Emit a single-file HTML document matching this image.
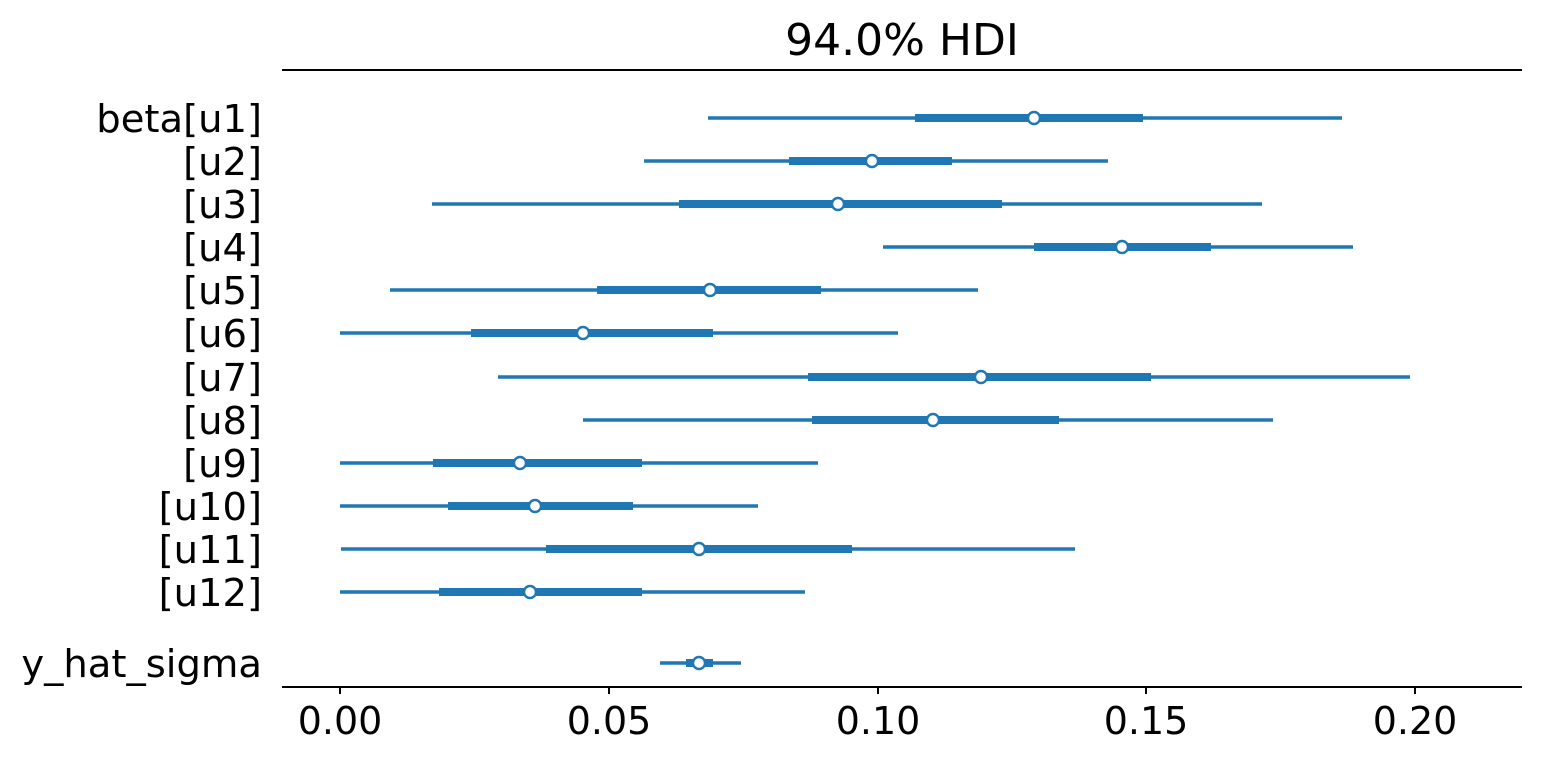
<!DOCTYPE html>
<html><head><style>body{margin:0;background:#fff}svg text{font-family:"DejaVu Sans",sans-serif;fill:#000}</style></head><body>
<svg width="1542" height="764" xmlns="http://www.w3.org/2000/svg">
<text x="902" y="55" font-size="44" text-anchor="middle">94.0% HDI</text>
<line x1="282" y1="70" x2="1522" y2="70" stroke="#000" stroke-width="2"/>
<line x1="282" y1="687" x2="1522" y2="687" stroke="#000" stroke-width="2"/>
<g stroke="#000" stroke-width="2">
<line x1="340" y1="687" x2="340" y2="694"/><line x1="609" y1="687" x2="609" y2="694"/><line x1="878" y1="687" x2="878" y2="694"/><line x1="1146" y1="687" x2="1146" y2="694"/><line x1="1415" y1="687" x2="1415" y2="694"/>
</g>
<g font-size="38" text-anchor="middle">
<text x="340" y="734">0.00</text><text x="609" y="734">0.05</text><text x="878" y="734">0.10</text><text x="1146" y="734">0.15</text><text x="1415" y="734">0.20</text>
</g>
<g font-size="38.5" text-anchor="end">
<text x="262" y="132">beta[u1]</text><text x="262" y="175">[u2]</text><text x="262" y="218">[u3]</text><text x="262" y="261">[u4]</text><text x="262" y="304">[u5]</text><text x="262" y="347">[u6]</text><text x="262" y="391">[u7]</text><text x="262" y="434">[u8]</text><text x="262" y="477">[u9]</text><text x="262" y="520">[u10]</text><text x="262" y="563">[u11]</text><text x="262" y="606">[u12]</text><text x="262" y="677">y_hat_sigma</text>
</g>
<g stroke="#1f77b4" fill="#fff">
<line x1="708" y1="118" x2="1342" y2="118" stroke-width="3.5"/><line x1="915" y1="118" x2="1143" y2="118" stroke-width="8"/><circle cx="1034" cy="118" r="6" stroke-width="2.4"/>
<line x1="644" y1="161" x2="1108" y2="161" stroke-width="3.5"/><line x1="789" y1="161" x2="952" y2="161" stroke-width="8"/><circle cx="872" cy="161" r="6" stroke-width="2.4"/>
<line x1="432" y1="204" x2="1262" y2="204" stroke-width="3.5"/><line x1="679" y1="204" x2="1002" y2="204" stroke-width="8"/><circle cx="838" cy="204" r="6" stroke-width="2.4"/>
<line x1="883" y1="247" x2="1353" y2="247" stroke-width="3.5"/><line x1="1034" y1="247" x2="1211" y2="247" stroke-width="8"/><circle cx="1122" cy="247" r="6" stroke-width="2.4"/>
<line x1="390" y1="290" x2="978" y2="290" stroke-width="3.5"/><line x1="597" y1="290" x2="821" y2="290" stroke-width="8"/><circle cx="710" cy="290" r="6" stroke-width="2.4"/>
<line x1="340" y1="333" x2="898" y2="333" stroke-width="3.5"/><line x1="471" y1="333" x2="713" y2="333" stroke-width="8"/><circle cx="583" cy="333" r="6" stroke-width="2.4"/>
<line x1="498" y1="377" x2="1410" y2="377" stroke-width="3.5"/><line x1="808" y1="377" x2="1151" y2="377" stroke-width="8"/><circle cx="981" cy="377" r="6" stroke-width="2.4"/>
<line x1="583" y1="420" x2="1273" y2="420" stroke-width="3.5"/><line x1="812" y1="420" x2="1059" y2="420" stroke-width="8"/><circle cx="933" cy="420" r="6" stroke-width="2.4"/>
<line x1="340" y1="463" x2="818" y2="463" stroke-width="3.5"/><line x1="433" y1="463" x2="642" y2="463" stroke-width="8"/><circle cx="520" cy="463" r="6" stroke-width="2.4"/>
<line x1="340" y1="506" x2="758" y2="506" stroke-width="3.5"/><line x1="448" y1="506" x2="633" y2="506" stroke-width="8"/><circle cx="535" cy="506" r="6" stroke-width="2.4"/>
<line x1="341" y1="549" x2="1075" y2="549" stroke-width="3.5"/><line x1="546" y1="549" x2="852" y2="549" stroke-width="8"/><circle cx="699" cy="549" r="6" stroke-width="2.4"/>
<line x1="340" y1="592" x2="805" y2="592" stroke-width="3.5"/><line x1="439" y1="592" x2="642" y2="592" stroke-width="8"/><circle cx="530" cy="592" r="6" stroke-width="2.4"/>
<line x1="660" y1="663" x2="741" y2="663" stroke-width="3.5"/><line x1="686" y1="663" x2="713" y2="663" stroke-width="8"/><circle cx="699" cy="663" r="6" stroke-width="2.4"/>
</g>
</svg>
</body></html>
